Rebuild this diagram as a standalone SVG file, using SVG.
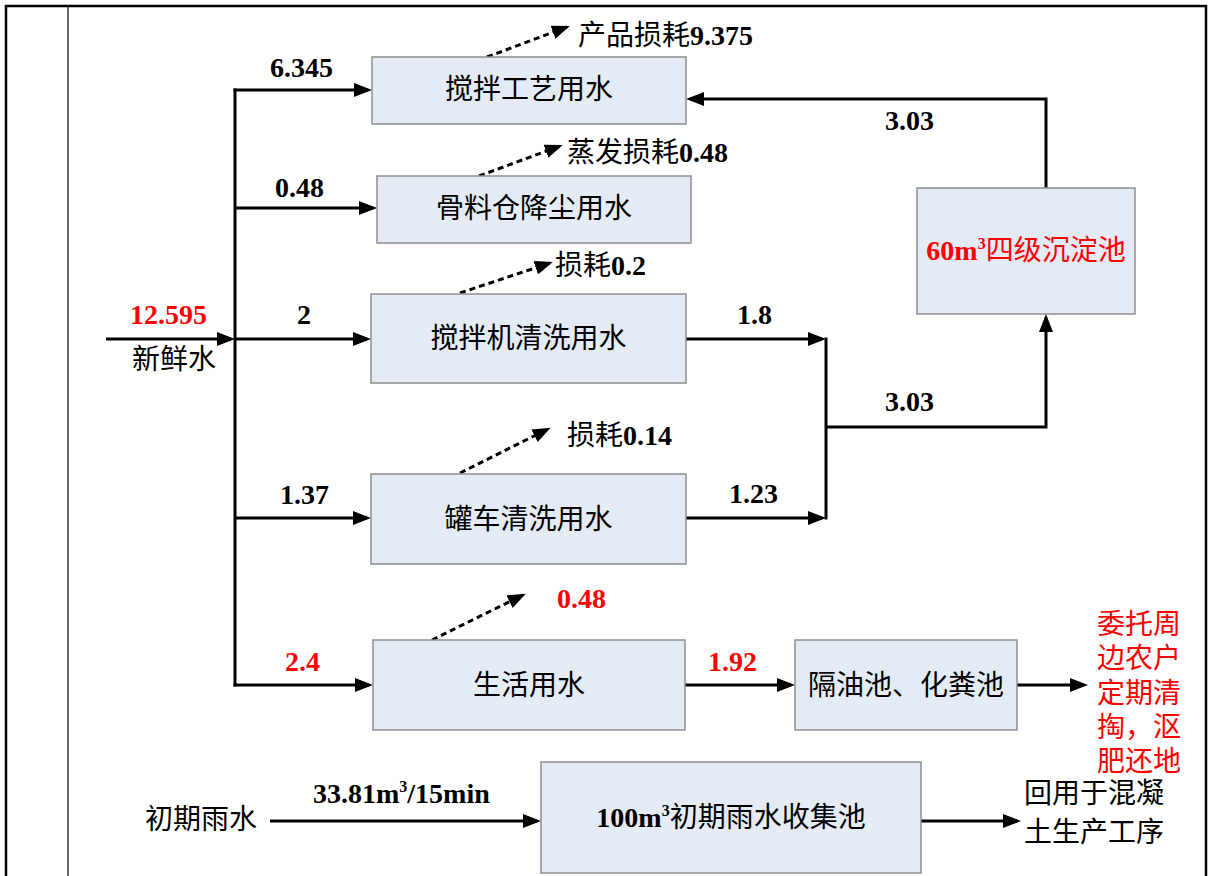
<svg xmlns="http://www.w3.org/2000/svg" width="1208" height="876" viewBox="0 0 1208 876">
<defs>
<style>
text{font-family:"Liberation Serif","Noto Sans CJK SC",serif;font-size:28px;fill:#000}
.b{font-weight:bold}
.r{fill:#ff0000}
.c{text-anchor:middle}
.sup{font-size:16px}
.box{fill:#e5ebf5;stroke:#8e8e8e;stroke-width:1.5}
.ln{fill:none;stroke:#000;stroke-width:3}
.ar{marker-end:url(#ah)}
.ds{fill:none;stroke:#000;stroke-width:3;stroke-dasharray:6 4;marker-end:url(#ahd)}
</style>
<marker id="ah" markerUnits="userSpaceOnUse" markerWidth="20" markerHeight="16" refX="14" refY="7" orient="auto"><path d="M0,0 L18,7 L0,14 z" fill="#000"/></marker>
<marker id="ahd" markerUnits="userSpaceOnUse" markerWidth="20" markerHeight="16" refX="15" refY="7" orient="auto"><path d="M0,0 L18,7 L0,14 z" fill="#000"/></marker>
</defs>
<rect width="1208" height="876" fill="#fff"/>
<g id="frame" fill="none" stroke="#000">
<path d="M6,876 V6 H1206 V876" stroke-width="2.5"/>
<line x1="68" y1="6" x2="68" y2="876" stroke-width="1.2"/>
</g>
<g id="connectors">
<line class="ln" x1="235" y1="88.5" x2="235" y2="686.5"/>
<line class="ln ar" x1="233.5" y1="90" x2="368" y2="90"/>
<line class="ln ar" x1="235" y1="208" x2="373" y2="208"/>
<line class="ln ar" x1="106" y1="339" x2="231" y2="339"/>
<line class="ln ar" x1="235" y1="339" x2="367" y2="339"/>
<line class="ln ar" x1="235" y1="518" x2="367" y2="518"/>
<line class="ln ar" x1="233.5" y1="685" x2="369" y2="685"/>
<line class="ln ar" x1="686" y1="339" x2="822" y2="339"/>
<line class="ln ar" x1="686" y1="518" x2="822" y2="518"/>
<line class="ln" x1="826" y1="337.5" x2="826" y2="519.5"/>
<path class="ln ar" d="M826,427 H1046 V318"/>
<path class="ln ar" d="M1046,188 V99 H690"/>
<line class="ln ar" x1="685" y1="685" x2="791" y2="685"/>
<line class="ln ar" x1="1017" y1="685" x2="1084" y2="685"/>
<line class="ln ar" x1="270" y1="821" x2="537" y2="821"/>
<line class="ln ar" x1="921" y1="821" x2="1017" y2="821"/>
<line class="ds" x1="487" y1="57" x2="567" y2="27"/>
<line class="ds" x1="479" y1="176" x2="560" y2="146"/>
<line class="ds" x1="460" y1="293" x2="550" y2="263"/>
<line class="ds" x1="460" y1="473" x2="548" y2="429"/>
<line class="ds" x1="432" y1="640" x2="523" y2="595"/>
</g>
<g id="n-mix">
<rect class="box" x="372" y="57" width="314" height="67"/>
<text class="c" x="529" y="99">搅拌工艺用水</text>
</g>
<g id="n-dust">
<rect class="box" x="377" y="176" width="314" height="67"/>
<text class="c" x="534" y="218">骨料仓降尘用水</text>
</g>
<g id="n-mixer-wash">
<rect class="box" x="371" y="294" width="315" height="89"/>
<text class="c" x="528.5" y="348">搅拌机清洗用水</text>
</g>
<g id="n-truck-wash">
<rect class="box" x="371" y="474" width="315" height="90"/>
<text class="c" x="528.5" y="529">罐车清洗用水</text>
</g>
<g id="n-domestic">
<rect class="box" x="373" y="640" width="312" height="90"/>
<text class="c" x="529" y="695">生活用水</text>
</g>
<g id="n-septic">
<rect class="box" x="795" y="640" width="222" height="90"/>
<text class="c" x="906" y="695">隔油池、化粪池</text>
</g>
<g id="n-settle">
<rect class="box" x="917" y="188" width="218" height="126"/>
<text class="c r" x="1026" y="260"><tspan class="b">60m</tspan><tspan class="b sup" dy="-11">3</tspan><tspan dy="11">四级沉淀池</tspan></text>
</g>
<g id="n-rain-pool">
<rect class="box" x="541" y="762" width="380" height="111"/>
<text class="c" x="731" y="827"><tspan class="b">100m</tspan><tspan class="b sup" dy="-11">3</tspan><tspan dy="11">初期雨水收集池</tspan></text>
</g>
<g id="labels">
<text x="578" y="45">产品损耗<tspan class="b">9.375</tspan></text>
<text x="567" y="162">蒸发损耗<tspan class="b">0.48</tspan></text>
<text x="555" y="275">损耗<tspan class="b">0.2</tspan></text>
<text x="567" y="445">损耗<tspan class="b">0.14</tspan></text>
<text class="b r" x="557" y="608">0.48</text>
<text class="b" x="270" y="77">6.345</text>
<text class="b" x="275" y="197">0.48</text>
<text class="b" x="297" y="324">2</text>
<text class="b" x="280" y="504">1.37</text>
<text class="b r" x="285" y="671">2.4</text>
<text class="b r" x="130" y="324">12.595</text>
<text x="132" y="369">新鲜水</text>
<text class="b" x="737" y="324">1.8</text>
<text class="b" x="729" y="503">1.23</text>
<text class="b" x="885" y="411">3.03</text>
<text class="b" x="885" y="130">3.03</text>
<text class="b r" x="708" y="671">1.92</text>
<text class="r" x="1097" y="634">委托周</text>
<text class="r" x="1097" y="668">边农户</text>
<text class="r" x="1097" y="703">定期清</text>
<text class="r" x="1097" y="737">掏，沤</text>
<text class="r" x="1097" y="771">肥还地</text>
<text x="1024" y="803">回用于混凝</text>
<text x="1024" y="842">土生产工序</text>
<text x="145" y="829">初期雨水</text>
<text class="b" x="313" y="803">33.81m<tspan class="sup" dy="-11">3</tspan><tspan dy="11">/15min</tspan></text>
</g>
</svg>
